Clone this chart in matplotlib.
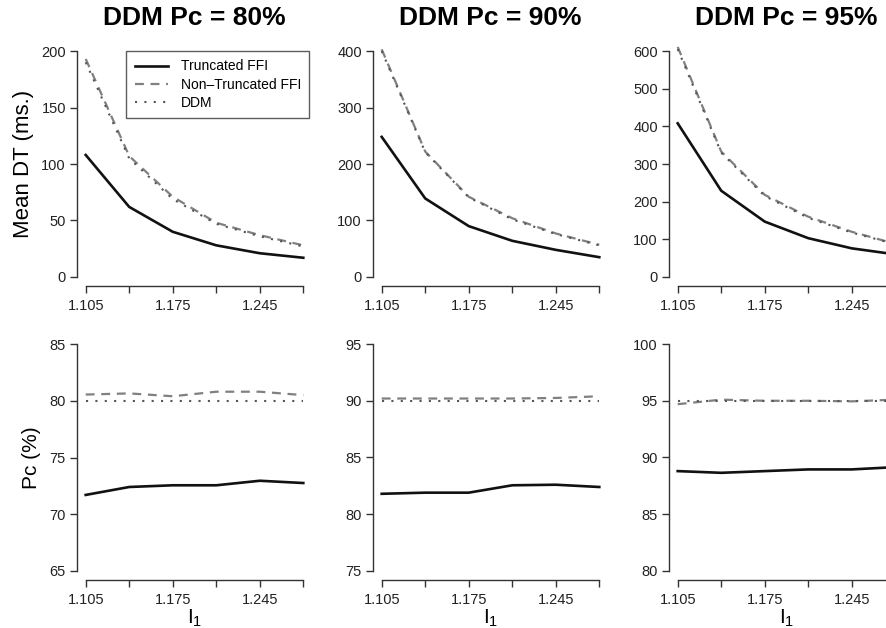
import matplotlib
matplotlib.use("Agg")
import matplotlib.pyplot as plt

plt.rcParams['font.family'] = ['Liberation Sans', 'DejaVu Sans']

# Intensity values on the x axis
i1 = [1.105, 1.14, 1.175, 1.21, 1.245, 1.28]
xticks = [1.105, 1.14, 1.175, 1.21, 1.245, 1.28]
xticklabels = ['1.105', '', '1.175', '', '1.245', '']

titles = ['DDM Pc = 80%', 'DDM Pc = 90%', 'DDM Pc = 95%']

# Mean decision time (ms.)
dt_trunc = [
    [108, 62, 40, 28, 21, 17],
    [248, 139, 90, 64, 48, 35],
    [408, 229, 147, 103, 76, 60],
]
dt_nontrunc = [
    [193, 107, 71, 48, 37, 28],
    [403, 222, 142, 104, 77, 57],
    [611, 333, 218, 160, 120, 88],
]
dt_ddm = [
    [190, 105, 69, 47, 36, 27],
    [400, 221, 141, 102, 76, 56],
    [605, 330, 215, 157, 118, 87],
]
dt_yticks = [
    [0, 50, 100, 150, 200],
    [0, 100, 200, 300, 400],
    [0, 100, 200, 300, 400, 500, 600],
]

# Proportion correct (%)
pc_trunc = [
    [71.7, 72.4, 72.55, 72.55, 72.95, 72.75],
    [81.8, 81.9, 81.9, 82.55, 82.6, 82.4],
    [88.8, 88.65, 88.8, 88.95, 88.95, 89.15],
]
pc_nontrunc = [
    [80.55, 80.65, 80.4, 80.8, 80.8, 80.5],
    [90.2, 90.2, 90.2, 90.2, 90.25, 90.4],
    [94.7, 95.1, 95.0, 95.0, 94.95, 95.1],
]
pc_ddm = [
    [80.0, 80.0, 80.0, 80.0, 80.0, 80.0],
    [90.0, 90.0, 90.0, 90.0, 90.0, 90.0],
    [95.0, 95.0, 95.0, 95.0, 95.0, 95.0],
]
pc_yticks = [
    [65, 70, 75, 80, 85],
    [75, 80, 85, 90, 95],
    [80, 85, 90, 95, 100],
]

W, H = 886, 628
fig = plt.figure(figsize=(W / 100, H / 100), dpi=100)

lefts = [77, 373, 669]
axw = 235
top_rows = [(42, 286), (335, 580)]

axis_col = '#333333'


def style_axis(ax, yticks):
    ax.set_xlim(1.098, 1.287)
    span = yticks[-1] - yticks[0]
    ax.set_ylim(yticks[0] - 0.04 * span, yticks[-1] + 0.04 * span)
    for s in ['top', 'right']:
        ax.spines[s].set_visible(False)
    ax.spines['left'].set_bounds(yticks[0], yticks[-1])
    ax.spines['bottom'].set_bounds(i1[0], i1[-1])
    for s in ['left', 'bottom']:
        ax.spines[s].set_color(axis_col)
        ax.spines[s].set_linewidth(1.0)
    ax.set_xticks(xticks)
    ax.set_xticklabels(xticklabels)
    ax.set_yticks(yticks)
    ax.tick_params(direction='out', length=5, width=1.0, color=axis_col,
                   labelsize=10.5, labelcolor='#222222')
    ax.tick_params(axis='x', pad=4)
    ax.tick_params(axis='y', pad=3)
    ax.patch.set_alpha(0)


def draw(ax, tr, nt, dd):
    ax.plot(i1, tr, color='#111111', lw=1.9, solid_joinstyle='round',
            label='Truncated FFI')
    ax.plot(i1, nt, color='#808080', lw=1.6, linestyle=(0, (4.0, 3.0)),
            label='Non\u2013Truncated FFI')
    ax.plot(i1, dd, color='#555555', lw=1.5, linestyle=(0, (1, 3.5)),
            label='DDM')


for c in range(3):
    for r, (t, b) in enumerate(top_rows):
        ax = fig.add_axes([lefts[c] / W, 1 - b / H, axw / W, (b - t) / H])
        if r == 0:
            draw(ax, dt_trunc[c], dt_nontrunc[c], dt_ddm[c])
            style_axis(ax, dt_yticks[c])
            ax.set_title(titles[c], fontsize=19, fontweight='bold', pad=12)
            if c == 0:
                ax.set_ylabel('Mean DT (ms.)', fontsize=16, labelpad=5)
                leg = ax.legend(loc='upper right', bbox_to_anchor=(1.2848, 200),
                                bbox_transform=ax.transData, borderaxespad=0,
                                fancybox=False, frameon=True, fontsize=10,
                                handlelength=2.4, handletextpad=0.9,
                                labelspacing=0.3, borderpad=0.6)
                leg.get_frame().set_edgecolor(axis_col)
                leg.get_frame().set_linewidth(1.0)
        else:
            draw(ax, pc_trunc[c], pc_nontrunc[c], pc_ddm[c])
            style_axis(ax, pc_yticks[c])
            ax.set_xlabel(r'$\mathregular{I_1}$', fontsize=15, labelpad=1)
            if c == 0:
                ax.set_ylabel('Pc (%)', fontsize=15, labelpad=6)

fig.savefig('out.png', dpi=100)
